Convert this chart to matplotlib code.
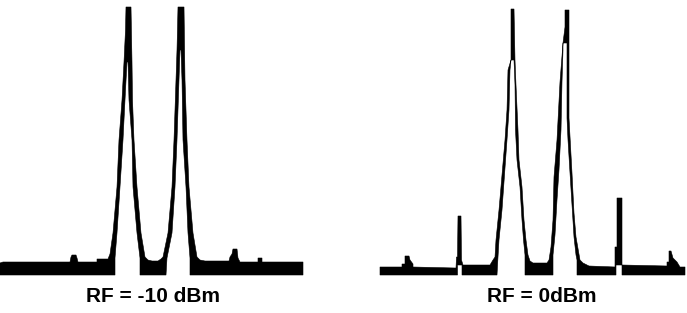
import matplotlib
matplotlib.use("Agg")
import matplotlib.pyplot as plt

# ---------------- data (frequency bin, level in relative display units) ----------------
# Panel A: RF = -10 dBm  -- max-hold (upper) and min-hold (lower) envelopes of the trace
freq_max_a = [0, 3, 70, 71, 72, 76, 77, 78, 97, 97, 108, 110,
              113, 117, 119, 122, 124, 125.5, 126, 131,
              132, 132.5, 134, 137, 141, 145,
              148, 152, 158, 161, 163,
              168, 172, 174, 176, 177, 178, 184,
              185, 187, 189, 193, 197,
              200, 205, 229, 230, 232, 233, 237, 238, 240,
              258, 258, 262, 262, 303]
level_max_a = [17, 18, 18, 23, 25, 25, 22, 18, 18, 21, 21, 26,
               47, 93, 140, 180, 218, 250, 273, 273,
               218, 180, 140, 93, 47, 23,
               20, 19, 19, 21, 23,
               47, 93, 140, 200, 230, 273, 273,
               200, 140, 93, 47, 23,
               20, 19, 19, 23, 26, 31, 31, 22, 18,
               18, 22, 22, 18, 18]
freq_min_a = [0, 115, 115, 117, 120, 123, 125, 127, 128, 129,
              132, 133, 137, 140, 140, 166, 167, 172, 175, 177,
              179, 180, 181, 182, 183, 186, 188, 190, 190, 303]
level_min_a = [5, 5, 22, 47, 93, 140, 180, 218, 218, 180,
               140, 93, 47, 22, 5, 5, 22, 47, 93, 140,
               200, 230, 230, 200, 140, 93, 47, 22, 5, 5]

# Panel B: RF = 0 dBm
freq_max_b = [3, 25, 25, 28, 28, 32, 33, 36, 36, 78, 79, 79.5, 80.5, 81, 84, 84.5, 86,
              113, 116, 118, 119, 122, 125, 128, 130, 131, 134, 134, 137,
              138, 139, 141, 142, 145, 147, 149, 151,
              153, 156, 170, 172,
              174, 176, 177, 180, 183, 186, 188, 188, 192, 192,
              195, 197, 199, 203, 206, 212, 238,
              238, 240, 240, 245, 245,
              290, 290, 292, 292, 294, 296, 300, 303, 308]
level_max_b = [13, 13, 16, 16, 24, 24, 20, 16, 13, 12, 12, 23, 23, 64, 64, 20, 15,
               15, 20, 23, 40, 70, 105, 140, 170, 210, 220, 271, 271,
               220, 195, 150, 120, 93, 60, 40, 25,
               19, 17, 17, 20,
               33, 60, 103, 140, 198, 237, 253, 270, 270, 162,
               107, 67, 43, 20, 17, 14, 13,
               33, 33, 82, 82, 15,
               14, 18, 18, 29, 29, 22, 18, 13, 13]
freq_min_b = [3, 80.5, 80.5, 85, 85, 120, 121, 122, 125, 127.5, 130, 132, 133, 134, 137,
              138, 138.5, 140, 143, 145, 146.5, 148, 148, 176, 176,
              178, 180, 182, 184, 185, 186, 186, 190, 190, 191,
              193, 195.5, 197, 199, 200, 200, 239, 239, 245, 245, 308]
level_min_b = [5, 5, 15, 15, 5, 5, 23, 40, 70, 105, 140, 170, 210, 220, 220,
               195, 150, 120, 93, 60, 40, 25, 5, 5, 25,
               45, 80, 110, 150, 198, 230, 237, 237, 162, 140,
               107, 67, 43, 25, 20, 5, 5, 15, 15, 5, 5]

labels = ["RF = -10 dBm", "RF = 0dBm"]

# ---------------- figure ----------------
W, H = 687, 313
fig = plt.figure(figsize=(W / 100, H / 100), dpi=100)
fig.patch.set_facecolor("white")


def draw_panel(ax, fmax, lmax, fmin, lmin):
    xs = list(fmax) + list(fmin)[::-1]
    ys = list(lmax) + list(lmin)[::-1]
    ax.fill(xs, ys, color="black", lw=0.4, edgecolor="black")
    ax.set_xlim(0, 310)
    ax.set_ylim(0, 280)
    ax.axis("off")


ax1 = fig.add_axes([0 / W, 33 / H, 310 / W, 280 / H])
ax2 = fig.add_axes([377 / W, 33 / H, 310 / W, 280 / H])
draw_panel(ax1, freq_max_a, level_max_a, freq_min_a, level_min_a)
draw_panel(ax2, freq_max_b, level_max_b, freq_min_b, level_min_b)

fig.text(153 / W, (H - 302) / H, labels[0], ha="center", va="baseline",
         fontsize=15, fontweight="bold", family="Liberation Sans")
fig.text(542 / W, (H - 302) / H, labels[1], ha="center", va="baseline",
         fontsize=15, fontweight="bold", family="Liberation Sans")

fig.savefig("out.png", dpi=100, facecolor="white")
